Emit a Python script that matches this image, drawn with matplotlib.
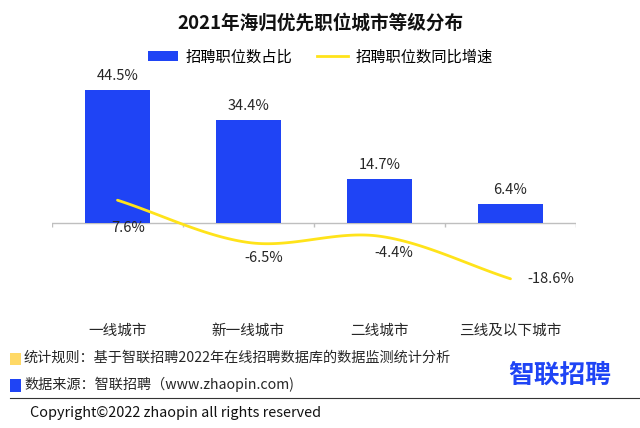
import numpy as np
import matplotlib.pyplot as plt
from matplotlib.patches import Rectangle, Patch
from matplotlib.lines import Line2D

plt.rcParams['font.family'] = ['Noto Sans CJK SC', 'DejaVu Sans']

categories = ['一线城市', '新一线城市', '二线城市', '三线及以下城市']
share = [44.5, 34.4, 14.7, 6.4]      # 招聘职位数占比 (%)
growth = [7.6, -6.5, -4.4, -18.6]    # 招聘职位数同比增速 (%)

BLUE = '#1f44f5'
YELLOW = '#ffe31a'
W, H = 640, 428


def catmull_rom(xs, ys, n=40):
    # smooth curve through the points, like the office "smoothed line"
    xs = np.asarray(xs, float)
    ys = np.asarray(ys, float)
    px = np.r_[2 * xs[0] - xs[1], xs, 2 * xs[-1] - xs[-2]]
    py = np.r_[2 * ys[0] - ys[1], ys, 2 * ys[-1] - ys[-2]]
    t = np.linspace(0, 1, n)
    cx, cy = [], []
    for i in range(1, len(px) - 2):
        for p, out in ((px, cx), (py, cy)):
            p0, p1, p2, p3 = p[i - 1], p[i], p[i + 1], p[i + 2]
            out.append(0.5 * (2 * p1 + (-p0 + p2) * t
                              + (2 * p0 - 5 * p1 + 4 * p2 - p3) * t ** 2
                              + (-p0 + 3 * p1 - 3 * p2 + p3) * t ** 3))
    return np.concatenate(cx), np.concatenate(cy)


fig = plt.figure(figsize=(W / 100, H / 100), dpi=100)
ax = fig.add_axes([52 / W, 1 - 313 / H, 524 / W, 240 / H])

x = np.arange(len(categories))
ax.bar(x, share, width=0.5, color=BLUE, zorder=2)
sx, sy = catmull_rom(x, growth)
ax.plot(sx, sy, color=YELLOW, lw=2, zorder=3, solid_capstyle='round')

ax.set_xlim(-0.5, len(categories) - 0.5)
ax.set_ylim(-30, 50)
for s in ['top', 'bottom', 'left', 'right']:
    ax.spines[s].set_visible(False)
ax.set_yticks([])
ax.axhline(0, color='#bfbfbf', lw=1, zorder=1)
ax.vlines(np.arange(len(categories) + 1) - 0.5, -1.4, 0, color='#bfbfbf', lw=1)
ax.set_xticks(x, categories)
ax.tick_params(axis='x', length=0, pad=8, labelsize=10.5, labelcolor='#262626')

# bar labels
for xi, v in zip(x, share):
    ax.annotate(f'{v}%', (xi, v), xytext=(0, 5), textcoords='offset points',
                ha='center', va='bottom', fontsize=10.5, color='#262626')

# line labels
offsets = [(8, -20, 'center'), (11, -11, 'center'), (10, -12, 'center'), (12, 0, 'left')]
for xi, v, (dx, dy, ha) in zip(x, growth, offsets):
    ax.annotate(f'{v}%', (xi, v), xytext=(dx, dy), textcoords='offset points',
                ha=ha, va='center', fontsize=10.5, color='#262626')

fig.text(320 / W, 1 - 23 / H, '2021年海归优先职位城市等级分布', ha='center', va='center',
         fontsize=13.4, fontweight='bold', color='#111111')

handles = [Patch(facecolor=BLUE), Line2D([0], [0], color=YELLOW, lw=2)]
fig.legend(handles, ['招聘职位数占比', '招聘职位数同比增速'], loc='center',
           bbox_to_anchor=(320 / W, 1 - 57 / H), ncol=2, frameon=False, fontsize=11,
           handlelength=2.0, handleheight=0.7, columnspacing=1.6, handletextpad=0.5)

# footnotes
fig.add_artist(Rectangle((10 / W, 1 - 365 / H), 11 / W, 12 / H, transform=fig.transFigure,
                         facecolor='#ffd966', edgecolor='none'))
fig.add_artist(Rectangle((10 / W, 1 - 392 / H), 11 / W, 13 / H, transform=fig.transFigure,
                         facecolor=BLUE, edgecolor='none'))
fig.text(24 / W, 1 - 358 / H, '统计规则：基于智联招聘2022年在线招聘数据库的数据监测统计分析',
         va='center', fontsize=10.2, color='#262626')
fig.text(24 / W, 1 - 384 / H, '数据来源：智联招聘（www.zhaopin.com)',
         va='center', fontsize=10.2, color='#262626')
fig.text(560 / W, 1 - 375 / H, '智联招聘', ha='center', va='center', fontsize=18.5,
         fontweight='bold', color='#1f44f5')
fig.add_artist(Line2D([10 / W, 1], [1 - 398 / H] * 2, transform=fig.transFigure,
                      color='#333333', lw=0.8))
fig.text(30 / W, 1 - 413 / H, 'Copyright©2022 zhaopin all rights reserved',
         va='center', fontsize=10.4, color='#111111')

plt.savefig('out.png', dpi=100)
